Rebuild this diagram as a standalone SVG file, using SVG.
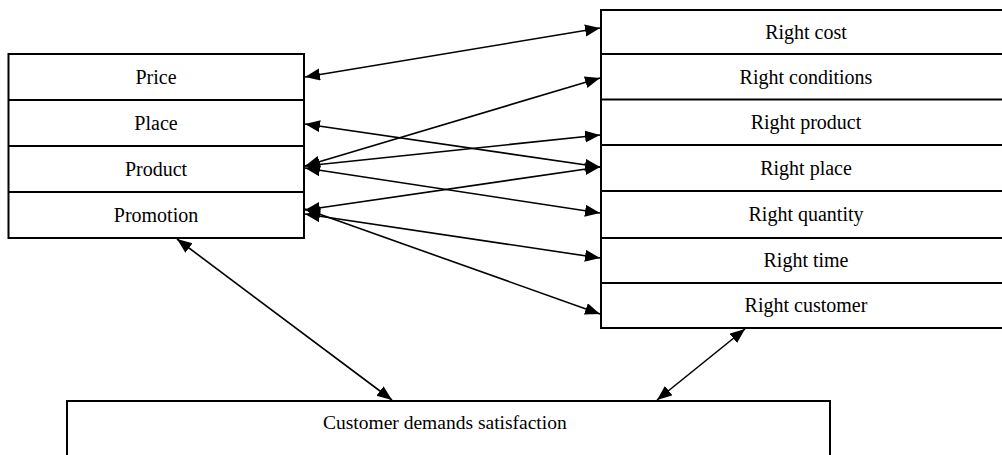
<svg xmlns="http://www.w3.org/2000/svg" width="1002" height="455" viewBox="0 0 1002 455">
<style>
.box{fill:#fff;stroke:#000;stroke-width:2}
.div{stroke:#000;stroke-width:2}
.t{font-family:"Liberation Serif","Times New Roman",serif;font-size:20px;fill:#000;text-anchor:middle}
.c{stroke:#000;stroke-width:1.6;fill:none;marker-start:url(#ah);marker-end:url(#ah)}
</style>
<defs>
<marker id="ah" markerUnits="userSpaceOnUse" markerWidth="16" markerHeight="13" refX="15" refY="6" orient="auto-start-reverse" viewBox="0 0 16 13">
<path d="M0,0 L15,6 L0,12 z" fill="#000"/>
</marker>
</defs>
<rect width="1002" height="455" fill="#fff"/>
<g id="left">
<rect class="box" x="8.5" y="54" width="295.5" height="184"/>
<line class="div" x1="8.5" y1="100" x2="304" y2="100"/>
<line class="div" x1="8.5" y1="146" x2="304" y2="146"/>
<line class="div" x1="8.5" y1="192" x2="304" y2="192"/>
<text class="t" x="156" y="84">Price</text>
<text class="t" x="156" y="130">Place</text>
<text class="t" x="156" y="176">Product</text>
<text class="t" x="156" y="222">Promotion</text>
</g>
<g id="right">
<rect class="box" x="601" y="10" width="410" height="318"/>
<line class="div" x1="601" y1="54" x2="1011" y2="54"/>
<line class="div" x1="601" y1="99.5" x2="1011" y2="99.5"/>
<line class="div" x1="601" y1="145" x2="1011" y2="145"/>
<line class="div" x1="601" y1="191" x2="1011" y2="191"/>
<line class="div" x1="601" y1="238" x2="1011" y2="238"/>
<line class="div" x1="601" y1="283" x2="1011" y2="283"/>
<text class="t" x="806" y="39">Right cost</text>
<text class="t" x="806" y="84">Right conditions</text>
<text class="t" x="806" y="129">Right product</text>
<text class="t" x="806" y="175">Right place</text>
<text class="t" x="806" y="221">Right quantity</text>
<text class="t" x="806" y="267">Right time</text>
<text class="t" x="806" y="312">Right customer</text>
</g>
<g id="bottom">
<rect class="box" x="67" y="401" width="763" height="80"/>
<text class="t" x="323" y="429" style="font-size:19.5px;text-anchor:start">Customer demands satisfaction</text>
</g>
<g id="connectors">
<line class="c" x1="305" y1="77" x2="600" y2="28"/>
<line class="c" x1="305" y1="124" x2="600" y2="167"/>
<line class="c" x1="305" y1="166" x2="600" y2="78"/>
<line class="c" x1="305" y1="166" x2="600" y2="135"/>
<line class="c" x1="305" y1="168" x2="600" y2="213"/>
<line class="c" x1="305" y1="210" x2="600" y2="167"/>
<line class="c" x1="305" y1="214" x2="600" y2="258"/>
<line class="c" x1="305" y1="209" x2="600" y2="314"/>
<line class="c" x1="177" y1="239" x2="392" y2="400"/>
<line class="c" x1="745" y1="329" x2="657" y2="400"/>
</g>
</svg>
